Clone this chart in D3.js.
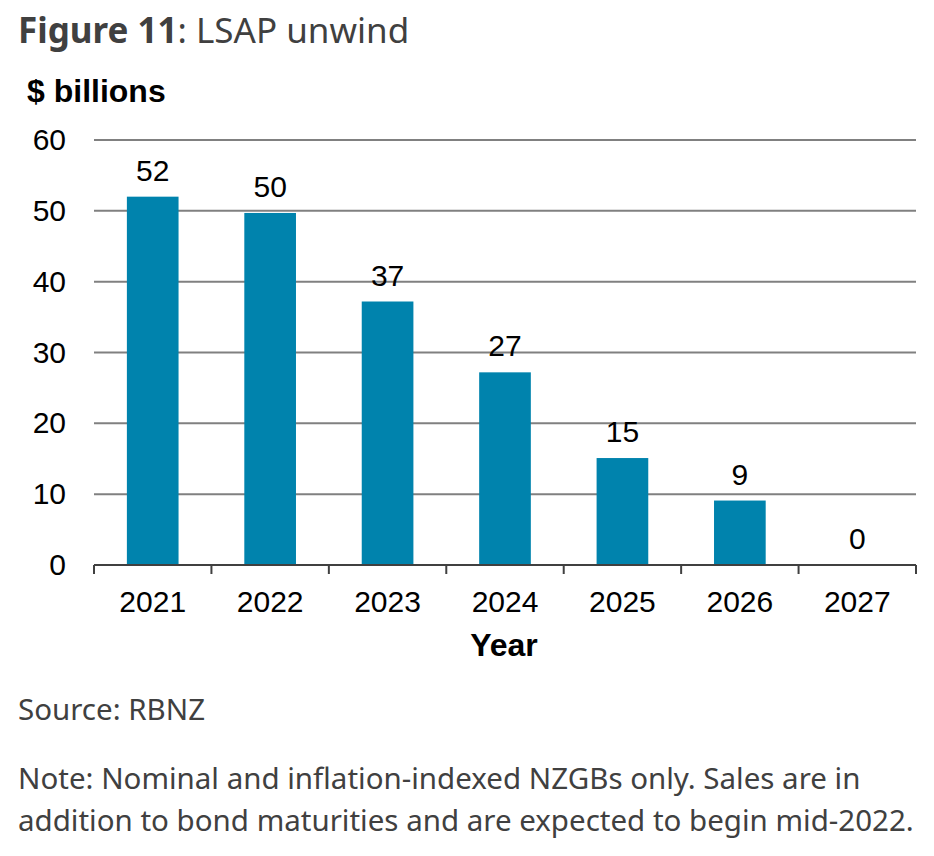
<!DOCTYPE html>
<html>
<head>
<meta charset="utf-8">
<script src="https://cdn.jsdelivr.net/npm/d3@7"></script>
<style>
  body { margin: 0; background: #fff; }
  svg { display: block; }
</style>
</head>
<body>
<svg id="chart" width="934" height="856"></svg>
<script>
// --- data ---
const years = ["2021", "2022", "2023", "2024", "2025", "2026", "2027"];
const sales = [52, 49.7, 37.2, 27.2, 15.1, 9.1, 0];
const labels = ["52", "50", "37", "27", "15", "9", "0"];
const yTicks = [0, 10, 20, 30, 40, 50, 60];

const W = 934, H = 856;
const M = {l: 94, r: 18, t: 140, b: 291};   // plot area 94..916, 140..565
const innerW = W - M.l - M.r, innerH = H - M.t - M.b;

const svg = d3.select("#chart");
const sans = "'Liberation Sans', Arial, sans-serif";
const textFont = "'Source Sans Pro', 'Noto Sans', sans-serif";

// title
const title = svg.append("text").attr("x", 18).attr("y", 43)
  .attr("font-family", textFont).attr("font-size", 35).attr("fill", "#404040");
title.append("tspan").attr("font-weight", "bold").text("Figure 11");
title.append("tspan").text(": LSAP unwind");

svg.append("text").attr("x", 27).attr("y", 102)
  .attr("font-family", sans).attr("font-weight", "bold").attr("font-size", 32)
  .attr("fill", "#000").text("$ billions");

const g = svg.append("g").attr("transform", `translate(${M.l},${M.t})`);

const x = d3.scaleBand().domain(years).range([0, innerW])
  .paddingInner(0.56).paddingOuter(0.28);
const y = d3.scaleLinear().domain([0, 60]).range([innerH, 0]);

// grid lines
g.append("g")
  .selectAll("line")
  .data(yTicks.filter(d => d > 0))
  .join("line")
    .attr("x1", 0).attr("x2", innerW)
    .attr("y1", d => y(d)).attr("y2", d => y(d))
    .attr("stroke", "#808080").attr("stroke-width", 2);

// y axis labels
const yAxis = g.append("g")
  .call(d3.axisLeft(y).tickValues(yTicks).tickSize(0).tickPadding(28));
yAxis.select(".domain").remove();
yAxis.selectAll("text").attr("font-family", sans).attr("font-size", 30).attr("fill", "#000");

// bars
g.append("g").selectAll("rect")
  .data(years)
  .join("rect")
    .attr("x", d => x(d))
    .attr("width", x.bandwidth())
    .attr("y", (d, i) => y(sales[i]))
    .attr("height", (d, i) => innerH - y(sales[i]))
    .attr("fill", "#0083AD");

// data labels
g.append("g").selectAll("text")
  .data(years)
  .join("text")
    .attr("x", d => x(d) + x.bandwidth() / 2)
    .attr("y", (d, i) => y(sales[i]) - 16)
    .attr("text-anchor", "middle")
    .attr("font-family", sans).attr("font-size", 30).attr("fill", "#000")
    .text((d, i) => labels[i]);

// x axis with boundary ticks
const xAxisG = g.append("g").attr("transform", `translate(0,${innerH})`);
xAxisG.append("line").attr("x1", 0).attr("x2", innerW)
  .attr("stroke", "#404040").attr("stroke-width", 2);
const bounds = d3.range(years.length + 1).map(i => i * x.step());
xAxisG.selectAll("line.tk").data(bounds).join("line").attr("class", "tk")
  .attr("x1", d => d).attr("x2", d => d).attr("y1", 0).attr("y2", 9)
  .attr("stroke", "#404040").attr("stroke-width", 2);
xAxisG.selectAll("text").data(years).join("text")
  .attr("x", d => x(d) + x.bandwidth() / 2)
  .attr("y", 47)
  .attr("text-anchor", "middle")
  .attr("font-family", sans).attr("font-size", 30).attr("fill", "#000")
  .text(d => d);

svg.append("text").attr("x", 504).attr("y", 656)
  .attr("text-anchor", "middle")
  .attr("font-family", sans).attr("font-weight", "bold").attr("font-size", 32)
  .attr("fill", "#000").text("Year");

// source & note
const foot = svg.append("g").attr("font-family", textFont).attr("font-size", 29.5).attr("fill", "#404040");
foot.append("text").attr("x", 18).attr("y", 720).text("Source: RBNZ");
foot.append("text").attr("x", 18).attr("y", 789)
  .text("Note: Nominal and inflation-indexed NZGBs only. Sales are in");
foot.append("text").attr("x", 18).attr("y", 831)
  .text("addition to bond maturities and are expected to begin mid-2022.");
</script>
</body>
</html>
